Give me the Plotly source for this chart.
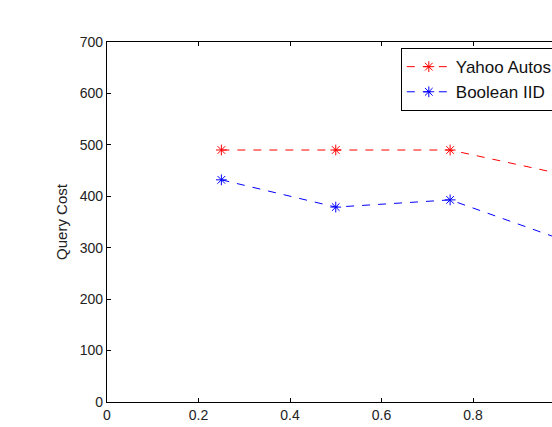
import plotly.graph_objects as go

overlap = [0.25, 0.5, 0.75, 1.0]
yahoo_autos = [490, 490, 490, 442]
boolean_iid = [432, 379, 393, 314]

x_tick_vals = [0, 0.2, 0.4, 0.6, 0.8]
x_tick_text = ["0", "0.2", "0.4", "0.6", "0.8"]
y_tick_vals = [0, 100, 200, 300, 400, 500, 600, 700]

FONT = "Liberation Sans, Arial, Helvetica, sans-serif"

fig = go.Figure()
fig.add_trace(go.Scatter(
    x=overlap, y=yahoo_autos, name="Yahoo Autos", mode="lines+markers",
    line=dict(color="rgb(255,0,0)", width=1, dash="8px,8px"),
    marker=dict(symbol="asterisk-open", size=9, color="rgb(255,0,0)",
                line=dict(color="rgb(255,0,0)", width=1)),
))
fig.add_trace(go.Scatter(
    x=overlap, y=boolean_iid, name="Boolean IID", mode="lines+markers",
    line=dict(color="rgb(0,0,255)", width=1, dash="8px,8px"),
    marker=dict(symbol="asterisk-open", size=9, color="rgb(0,0,255)",
                line=dict(color="rgb(0,0,255)", width=1)),
))

fig.update_layout(
    width=600, height=435,
    margin=dict(l=107, r=0, t=42, b=33, autoexpand=False),
    paper_bgcolor="white", plot_bgcolor="white",
    font=dict(family=FONT, size=14, color="#222"),
    showlegend=True,
    legend=dict(x=0.596, y=0.983, xanchor="left", yanchor="top",
                bgcolor="white", bordercolor="black", borderwidth=1,
                font=dict(size=17, color="#111"), tracegroupgap=0,
                itemwidth=44),
    xaxis=dict(range=[0, 1.0776], tickvals=x_tick_vals, ticktext=x_tick_text,
               showgrid=False, zeroline=False, showline=True, linecolor="black",
               linewidth=1.3, mirror="ticks", ticks="inside", ticklen=4,
               tickcolor="black", automargin=False,
               tickfont=dict(size=14, color="#222")),
    yaxis=dict(range=[0, 700], tickvals=y_tick_vals,
               showgrid=False, zeroline=False, showline=True, linecolor="black",
               linewidth=1.3, ticks="inside", ticklen=4, tickcolor="black",
               automargin=False, tickfont=dict(size=14, color="#222"),
               title=dict(text="Query Cost", font=dict(size=15, color="#222"),
                          standoff=8)),
    annotations=[dict(text="Fraction of Query Overlap", xref="paper", yref="paper",
                      x=0.4645, y=-0.058, xanchor="center", yanchor="top",
                      showarrow=False, font=dict(size=14, color="#444"))],
)

fig.write_html(
    "out.html",
    config={"displayModeBar": False},
    post_script="document.body.style.margin='0';"
                "document.documentElement.style.overflow='hidden';"
                "document.body.style.overflow='hidden';",
)
